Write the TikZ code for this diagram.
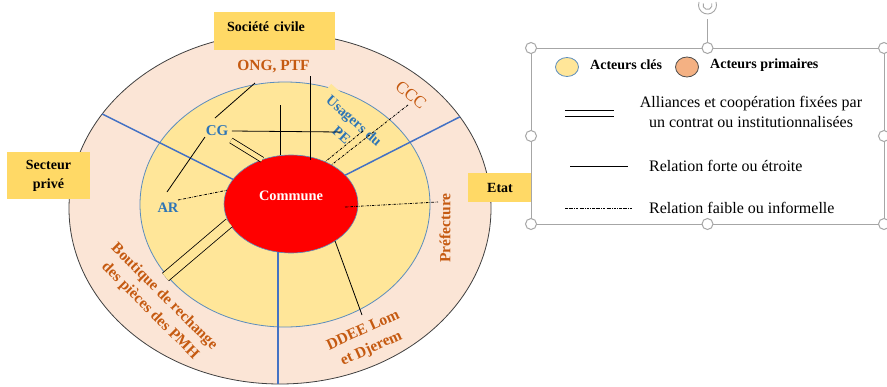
\documentclass[tikz,border=0pt]{standalone}
\usepackage{fontspec}
\setmainfont{Liberation Serif}
\usetikzlibrary{shapes.geometric}
\definecolor{ringpeach}{HTML}{FBE5D6}
\definecolor{ringyellow}{HTML}{FFE699}
\definecolor{boxyellow}{HTML}{FFD966}
\definecolor{commred}{HTML}{FF0000}
\definecolor{edgeblue}{HTML}{5B8DBE}
\definecolor{divblue}{HTML}{4472C4}
\definecolor{actorange}{HTML}{C55A11}
\definecolor{actblue}{HTML}{2E75B6}
\definecolor{primfill}{HTML}{F4B183}
\definecolor{framegray}{HTML}{A6A6A6}
\tikzset{ring/.style={ellipse, inner sep=0pt, outer sep=0pt}, sector/.style={fill=boxyellow, font=\bfseries\fontsize{14}{19}\selectfont, align=center}, prim/.style={text=actorange, font=\bfseries\fontsize{15.5}{20}\selectfont, align=center}, cle/.style={text=actblue, font=\bfseries\fontsize{15}{19}\selectfont, align=center}, strong/.style={line width=.8pt}, alliance/.style={line width=.8pt, double=ringyellow, double distance=4.5pt}, weak/.style={line width=.8pt, dash pattern=on 2.5pt off 1.2pt on .5pt off 1.2pt}, divider/.style={draw=divblue, line width=1.5pt}, handle/.style={circle, draw=framegray, fill=white, line width=1pt, minimum size=11pt, inner sep=0pt}, leg/.style={font=\fontsize{16}{20}\selectfont, inner sep=0pt}, legb/.style={font=\bfseries\fontsize{14}{18}\selectfont, inner sep=0pt, anchor=west}}

\begin{document}
\begin{tikzpicture}[x=1pt, y=-1pt]
\useasboundingbox (0,0) rectangle (887,386);
\fill[white] (0,0) rectangle (887,386);
% rings
\node[ring, draw=black!75, line width=.8pt, fill=ringpeach, minimum width=422pt, minimum height=351pt] (outer) at (280,208.5) {};
\node[ring, draw=edgeblue, line width=.8pt, fill=ringyellow, minimum width=290pt, minimum height=245pt] (mid) at (285,204.5) {};
\node[cle, fill=ringyellow, inner sep=7pt, font=\bfseries\fontsize{14.5}{19}\selectfont, rotate=-41.5] (usa) at (348,127.5) {Usagers du\\PE};
\node[ring, draw=edgeblue, line width=.6pt, fill=commred, minimum width=134pt, minimum height=98pt] (com) at (291,204) {};
\node[text=white, font=\bfseries\fontsize{14.4}{18}\selectfont] (comtxt) at ([yshift=8pt]com.center) {Commune};
\draw[divider] (outer.152) -- (com.157);
\draw[divider] (outer.27.2) -- (com.28);
\draw[divider] (com.-105) -- (com.-105 |- outer.south);
% actors
\node[prim] (ong) at (273.5,67) {ONG, PTF};
\node[text=actorange, font=\fontsize{17}{20}\selectfont, rotate=-40] (ccc) at (411,95) {CCC};
\node[prim, rotate=90] (pref) at (445,228) {Préfecture};
\node[prim, rotate=24.4] (ddee) at (367.5,340) {DDEE Lom\\et Djerem};
\node[prim, rotate=-45] (bout) at (157,304) {Boutique de rechange\\des pièces des PMH};
\node[cle] (cg) at (217,131) {CG};
\node[cle, font=\bfseries\fontsize{14.5}{19}\selectfont] (ar) at (168,208) {AR};
% sectors
\node[sector, anchor=north west, text width=95pt, align=left, inner xsep=13pt, inner ysep=5pt, text height=14pt, text depth=14pt] (soc) at (214,12) {Société civile};
\node[sector, minimum width=83pt, minimum height=47pt] (priv) at (48.5,175.5) {Secteur\\privé};
\node[sector, minimum width=64pt, minimum height=29pt] (etat) at (500,187.5) {Etat};
% relations
\coordinate (ong-l) at (255,83);
\coordinate (ong-r) at (310,76);
\coordinate (cg-t) at (215,118);
\coordinate (cg-d) at (231,140.5);
\coordinate (cg-b) at (205,137);
\coordinate (pe-l) at (340,132);
\coordinate (ar-t) at (167,192);
\coordinate (ar-r) at (178,200);
\coordinate (top-free) at (280,105);
\coordinate (ccc-b) at (408,105);
\coordinate (pe-b) at (363,131);
\coordinate (pref-l) at (438,202);
\coordinate (ddee-t) at (362,315);
\coordinate (bout-t) at (165.5,277);
\draw[strong] (ong-l) -- (cg-t);
\draw[strong] (ong-r) -- ++(0,84);
\draw[strong] (top-free) -- (top-free |- com.north);
\draw[strong] (cg.east) -- (pe-l);
\draw[alliance] (cg-d) -- (com.123);
\draw[strong] (cg-b) -- (ar-t);
\draw[weak] (ar-r) -- (com.168);
\draw[weak] (ccc-b) -- (com.44);
\draw[weak] (pe-b) -- (com.51);
\draw[weak] ([xshift=54pt,yshift=-3pt]com.center) -- (pref-l);
\draw[strong] (com.-40) -- (ddee-t);
\draw[line width=.8pt, double=ringyellow, double distance=9pt] (com.197) -- (bout-t);
% legend
\draw[framegray, line width=1pt] (531,48) rectangle (884,224);
\draw[framegray, line width=1pt] (707.5,48) -- (707.5,19);
\draw[framegray, line width=.9pt] (707.5,5) ++(200:9) arc[start angle=200, end angle=-20, radius=9];
\draw[framegray, line width=.9pt] (707.5,5) ++(200:4.5) arc[start angle=200, end angle=-20, radius=4.5];
\foreach \hx/\hy in {531/48, 707.5/48, 884/48, 531/136, 884/136, 531/224, 707.5/224, 884/224}
  \node[handle] at (\hx,\hy) {};
\node[ring, draw=edgeblue, line width=.8pt, fill=ringyellow, minimum width=23pt, minimum height=19pt] (kcle) at (567,67) {};
\node[legb] (tcle) at (590,65) {Acteurs clés};
\node[ring, draw=black!70, line width=.8pt, fill=primfill, minimum width=23pt, minimum height=20pt] (kprim) at (687,67) {};
\node[legb] (tprim) at (710,65) {Acteurs primaires};
\draw[line width=.8pt, double=white, double distance=5.5pt] (565,113.5) -- (614,113.5);
\node[leg, align=center] (tal) at (751,112) {Alliances et coopération fixées par\\un contrat ou institutionnalisées};
\draw[strong] (570,166) -- (628,166);
\node[leg, anchor=west] (tfort) at (649,166) {Relation forte ou étroite};
\draw[weak, line width=.6pt] (565,208) -- (633,208);
\node[leg, anchor=west] (tfaib) at (649,208) {Relation faible ou informelle};
\end{tikzpicture}
\end{document}
